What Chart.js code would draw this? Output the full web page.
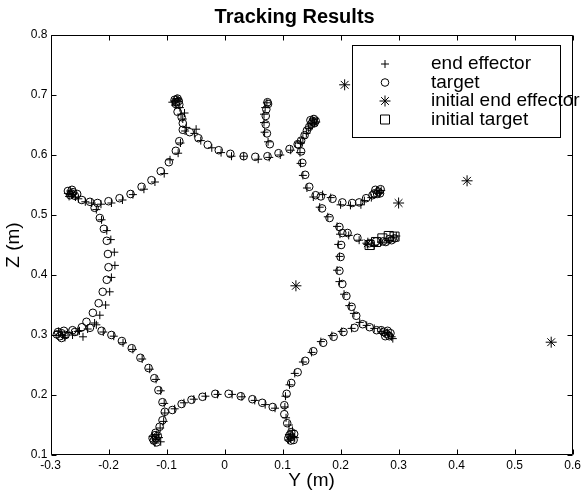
<!DOCTYPE html>
<html><head><meta charset="utf-8">
<script src="https://cdn.jsdelivr.net/npm/chart.js@4/dist/chart.umd.min.js"></script>
<style>html,body{margin:0;padding:0;background:#fff;}</style>
</head><body>
<canvas id="c" width="584" height="491"></canvas>
<script>
const FONT = "'Liberation Sans', Arial, sans-serif";
const xTicks = [-0.3,-0.2,-0.1,0,0.1,0.2,0.3,0.4,0.5,0.6];
const xTickLabels = ['-0.3','-0.2','-0.1','0','0.1','0.2','0.3','0.4','0.5','0.6'];
const yTicks = [0.1,0.2,0.3,0.4,0.5,0.6,0.7,0.8];
const yTickLabels = ['0.1','0.2','0.3','0.4','0.5','0.6','0.7','0.8'];
const seriesNames = ['end effector','target','initial end effector','initial target'];

const targetPts = [
[-0.072,0.642],[-0.060,0.638],[-0.045,0.628],[-0.029,0.617],[-0.010,0.608],[0.010,0.602],[0.033,0.598],[0.053,0.597],[0.074,0.598],[0.093,0.603],[0.112,0.610],[0.126,0.618],
[-0.072,0.653],[-0.074,0.663],[-0.081,0.672],[-0.083,0.688],[-0.086,0.692],[-0.079,0.690],[-0.084,0.685],[-0.078,0.684],[-0.081,0.694],
[-0.078,0.623],[-0.084,0.607],[-0.096,0.588],[-0.110,0.573],[-0.126,0.558],[-0.143,0.547],[-0.162,0.535],[-0.181,0.528],[-0.200,0.523],[-0.219,0.520],[-0.232,0.522],[-0.246,0.525],
[-0.264,0.536],[-0.270,0.540],[-0.266,0.533],[-0.261,0.538],[-0.258,0.532],[-0.263,0.542],[-0.254,0.535],
[-0.224,0.512],[-0.215,0.495],[-0.208,0.477],[-0.203,0.457],[-0.201,0.435],[-0.200,0.413],[-0.203,0.392],[-0.210,0.372],[-0.217,0.353],[-0.227,0.337],[-0.238,0.322],[-0.246,0.313],[-0.262,0.308],
[-0.281,0.303],[-0.287,0.305],[-0.284,0.298],[-0.277,0.307],[-0.274,0.300],[-0.281,0.295],[-0.289,0.301],
[-0.258,0.305],[-0.232,0.312],[-0.212,0.307],[-0.195,0.300],[-0.177,0.290],[-0.160,0.278],[-0.145,0.262],[-0.131,0.245],[-0.121,0.228],[-0.114,0.208],[-0.107,0.188],[-0.103,0.172],[-0.107,0.158],[-0.112,0.147],[-0.119,0.137],
[-0.119,0.128],[-0.122,0.124],[-0.115,0.132],[-0.120,0.133],[-0.117,0.121],[-0.124,0.128],
[-0.090,0.175],[-0.074,0.185],[-0.057,0.192],[-0.038,0.197],[-0.016,0.202],[0.007,0.202],[0.028,0.198],[0.048,0.193],[0.065,0.187],[0.083,0.180],
[0.115,0.130],[0.112,0.133],[0.119,0.125],[0.114,0.124],[0.120,0.135],[0.110,0.128],
[0.115,0.138],[0.108,0.153],[0.103,0.168],[0.103,0.183],[0.107,0.202],[0.115,0.220],[0.126,0.238],[0.139,0.257],[0.153,0.273],[0.170,0.287],[0.188,0.297],[0.205,0.305],[0.224,0.312],
[0.279,0.302],[0.274,0.305],[0.284,0.298],[0.277,0.298],[0.270,0.308],[0.281,0.307],[0.286,0.303],
[0.201,0.450],[0.200,0.430],[0.198,0.407],[0.203,0.385],[0.210,0.365],[0.219,0.347],[0.227,0.332],[0.238,0.318],[0.250,0.313],[0.262,0.308],
[0.132,0.606],[0.134,0.587],[0.139,0.567],[0.146,0.547],[0.157,0.533],[0.168,0.511],[0.181,0.495],[0.198,0.480],[0.203,0.470],
[0.212,0.470],[0.229,0.462],[0.250,0.453],[0.261,0.456],[0.273,0.456],[0.284,0.460],[0.293,0.461],[0.288,0.458],[0.278,0.455],
[0.166,0.531],[0.186,0.527],[0.203,0.521],[0.220,0.520],[0.232,0.521],[0.244,0.528],[0.255,0.533],[0.265,0.539],[0.260,0.542],[0.268,0.536],[0.263,0.535],[0.269,0.543],[0.258,0.536],
[0.128,0.617],[0.132,0.624],[0.138,0.633],[0.142,0.641],[0.146,0.647],[0.152,0.656],[0.148,0.658],[0.155,0.653],[0.154,0.660],[0.150,0.652],[0.157,0.657],
[0.078,0.618],[0.073,0.636],[0.071,0.651],[0.071,0.665],[0.072,0.676],[0.075,0.685],[0.074,0.688]
];

const effectorPts = [
[-0.068,0.640],[-0.052,0.636],[-0.041,0.624],[-0.022,0.612],[-0.006,0.604],[0.012,0.598],[0.033,0.598],[0.058,0.593],[0.077,0.596],[0.096,0.600],[0.114,0.608],[0.131,0.620],[-0.049,0.643],[-0.069,0.670],
[-0.066,0.646],[-0.072,0.660],[-0.075,0.668],[-0.087,0.690],[-0.082,0.694],[-0.090,0.688],[-0.080,0.692],[-0.077,0.679],[-0.085,0.683],
[-0.076,0.620],[-0.080,0.603],[-0.094,0.592],[-0.104,0.569],[-0.120,0.555],[-0.139,0.543],[-0.158,0.534],[-0.176,0.525],[-0.195,0.520],[-0.213,0.518],[-0.229,0.520],[-0.240,0.522],
[-0.266,0.540],[-0.262,0.534],[-0.270,0.536],[-0.257,0.530],[-0.252,0.527],[-0.268,0.531],
[-0.221,0.509],[-0.212,0.492],[-0.203,0.474],[-0.196,0.459],[-0.190,0.438],[-0.189,0.416],[-0.195,0.396],[-0.198,0.372],[-0.205,0.350],[-0.215,0.333],[-0.224,0.320],[-0.236,0.310],[-0.253,0.306],
[-0.279,0.299],[-0.275,0.296],[-0.270,0.304],[-0.286,0.306],[-0.262,0.300],[-0.244,0.297],
[-0.250,0.307],[-0.221,0.317],[-0.209,0.305],[-0.191,0.298],[-0.175,0.287],[-0.158,0.276],[-0.142,0.260],[-0.129,0.243],[-0.118,0.226],[-0.110,0.207],[-0.104,0.186],[-0.103,0.170],[-0.105,0.156],[-0.111,0.145],[-0.117,0.134],
[-0.118,0.126],[-0.113,0.129],[-0.124,0.131],[-0.110,0.122],[-0.120,0.120],
[-0.086,0.177],[-0.070,0.187],[-0.053,0.193],[-0.033,0.198],[-0.012,0.201],[0.013,0.201],[0.030,0.197],[0.052,0.191],[0.070,0.184],[0.087,0.178],
[0.114,0.127],[0.118,0.131],[0.110,0.125],[0.121,0.129],[0.111,0.134],[0.117,0.141],[0.111,0.150],[0.106,0.162],[0.104,0.180],[0.105,0.198],[0.112,0.217],[0.121,0.236],[0.135,0.255],[0.150,0.271],[0.166,0.289],[0.185,0.299],[0.202,0.306],[0.219,0.311],
[0.283,0.300],[0.288,0.297],[0.276,0.303],[0.271,0.306],[0.281,0.304],[0.290,0.294],
[0.196,0.451],[0.198,0.431],[0.194,0.408],[0.198,0.389],[0.206,0.368],[0.215,0.349],[0.223,0.336],[0.233,0.321],[0.245,0.316],[0.258,0.311],
[0.130,0.604],[0.131,0.586],[0.135,0.566],[0.142,0.545],[0.153,0.530],[0.164,0.513],[0.178,0.497],[0.194,0.481],[0.199,0.468],
[0.214,0.466],[0.232,0.458],[0.246,0.451],[0.258,0.449],[0.270,0.455],[0.282,0.457],[0.296,0.465],[0.291,0.462],
[0.169,0.534],[0.183,0.529],[0.200,0.517],[0.217,0.516],[0.235,0.517],[0.241,0.524],[0.253,0.529],[0.267,0.536],[0.262,0.540],[0.270,0.541],
[0.131,0.620],[0.135,0.628],[0.141,0.636],[0.145,0.644],[0.149,0.650],[0.155,0.653],[0.152,0.660],[0.158,0.655],
[0.075,0.622],[0.069,0.638],[0.068,0.654],[0.068,0.668],[0.070,0.679],[0.073,0.687]
];

const initialEffectorPts = [[0.207,0.717],[0.418,0.557],[0.563,0.288],[0.123,0.382],[0.300,0.520],[0.247,0.453]];
const initialTargetPts = [[0.250,0.450],[0.261,0.455],[0.272,0.461],[0.283,0.465],[0.293,0.464]];

const toXY = a => a.map(p => ({x:p[0], y:p[1]}));

function drawMarker(ctx, kind, x, y) {
  ctx.save();
  ctx.strokeStyle = '#000'; ctx.lineWidth = 1; ctx.beginPath();
  if (kind === 'cross') { ctx.moveTo(x-4,y); ctx.lineTo(x+4,y); ctx.moveTo(x,y-4); ctx.lineTo(x,y+4); }
  else if (kind === 'circle') { ctx.arc(x,y,3.8,0,Math.PI*2); }
  else if (kind === 'star') {
    const r=5.5, d=r*0.7071;
    ctx.moveTo(x-r,y); ctx.lineTo(x+r,y); ctx.moveTo(x,y-r); ctx.lineTo(x,y+r);
    ctx.moveTo(x-d,y-d); ctx.lineTo(x+d,y+d); ctx.moveTo(x-d,y+d); ctx.lineTo(x+d,y-d);
  } else if (kind === 'rect') { ctx.rect(x-4.5,y-4.5,9,9); }
  ctx.stroke(); ctx.restore();
}

const frame = {
  id:'frame',
  afterLayout(chart) {
    const tb = chart.titleBlock;
    if (tb) { tb.left += 8; tb.right += 8; }
  },
  beforeDatasetsDraw(chart) {
    const {ctx, chartArea:a, scales:{x, y}} = chart;
    ctx.save(); ctx.strokeStyle='#000'; ctx.lineWidth=1; ctx.beginPath();
    const L=Math.round(a.left)+0.5, R=Math.round(a.right)-0.5, T=Math.round(a.top)+0.5, B=Math.round(a.bottom)-0.5;
    ctx.rect(L,T,R-L,B-T);
    xTicks.forEach(v => { const px=Math.round(x.getPixelForValue(v))+0.5; ctx.moveTo(px,B); ctx.lineTo(px,B-5); ctx.moveTo(px,T); ctx.lineTo(px,T+5); });
    yTicks.forEach(v => { const py=Math.round(y.getPixelForValue(v))+0.5; ctx.moveTo(L,py); ctx.lineTo(L+5,py); ctx.moveTo(R,py); ctx.lineTo(R-5,py); });
    ctx.stroke(); ctx.restore();
  }
};

const legendBox = {
  id:'legendBox',
  afterDraw(chart) {
    const ctx = chart.ctx;
    const bx=352.5, by=45.5, bw=208, bh=92;
    ctx.save();
    ctx.fillStyle='#fff'; ctx.fillRect(bx,by,bw,bh);
    ctx.strokeStyle='#000'; ctx.lineWidth=1; ctx.strokeRect(bx,by,bw,bh);
    const kinds=['cross','circle','star','rect'];
    ctx.font = '19px ' + FONT; ctx.fillStyle='#000'; ctx.textBaseline='middle'; ctx.textAlign='left';
    seriesNames.forEach((n,i) => {
      const yy = 64 + i*18.5;
      drawMarker(ctx, kinds[i], 385, yy);
      ctx.fillText(n, 431, yy);
    });
    ctx.restore();
  }
};

new Chart(document.getElementById('c'), {
  type:'scatter',
  data:{ datasets:[
    {label:seriesNames[0], data:toXY(effectorPts), pointStyle:'cross', radius:4, borderColor:'#000', borderWidth:1, backgroundColor:'#000'},
    {label:seriesNames[1], data:toXY(targetPts), pointStyle:'circle', radius:3.8, borderColor:'#000', borderWidth:1, backgroundColor:'rgba(0,0,0,0)'},
    {label:seriesNames[2], data:toXY(initialEffectorPts), pointStyle:'star', radius:5.5, borderColor:'#000', borderWidth:1, backgroundColor:'#000'},
    {label:seriesNames[3], data:toXY(initialTargetPts), pointStyle:'rect', radius:6.4, borderColor:'#000', borderWidth:1, backgroundColor:'rgba(0,0,0,0)'}
  ]},
  options:{
    responsive:false, animation:false, devicePixelRatio:1,
    layout:{padding:{left:0, right:10.7, top:0, bottom:0}},
    plugins:{
      legend:{display:false}, tooltip:{enabled:false},
      title:{display:true, text:'Tracking Results', color:'#000', font:{family:FONT, size:20, weight:'bold', lineHeight:1.2}, padding:{top:5, bottom:6}}
    },
    scales:{
      x:{type:'linear', min:-0.3, max:0.6,
         afterBuildTicks:s => { s.ticks = xTicks.map(v => ({value:v})); },
         afterFit:s => { s.height = 36; },
         ticks:{callback:(v,i) => xTickLabels[i], color:'#000', font:{family:FONT, size:12}, padding:3, maxRotation:0, autoSkip:false},
         grid:{display:false, drawTicks:false}, border:{display:false},
         title:{display:true, text:'Y (m)', color:'#000', font:{family:FONT, size:19, lineHeight:1.1}, padding:{top:0, bottom:0}}},
      y:{type:'linear', min:0.1, max:0.8,
         afterBuildTicks:s => { s.ticks = yTicks.map(v => ({value:v})); },
         afterFit:s => { s.width = 50.5; },
         ticks:{callback:(v,i) => yTickLabels[i], color:'#000', font:{family:FONT, size:12}, padding:3, autoSkip:false},
         grid:{display:false, drawTicks:false}, border:{display:false},
         title:{display:true, text:'Z (m)', color:'#000', font:{family:FONT, size:19, lineHeight:1.2}, padding:{top:2, bottom:0}}}
    }
  },
  plugins:[frame, legendBox]
});
</script>
</body></html>
